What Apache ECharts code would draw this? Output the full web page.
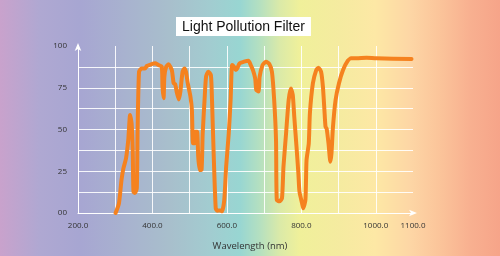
<!DOCTYPE html>
<html>
<head>
<meta charset="utf-8">
<script src="https://cdn.jsdelivr.net/npm/echarts@6/dist/echarts.min.js"></script>
<style>
html,body{margin:0;padding:0;}
#chart{width:500px;height:256px;}
</style>
</head>
<body>
<div id="chart"></div>
<script>
var titleText = 'Light Pollution Filter';
var xAxisName = 'Wavelength (nm)';
var xLabelValues = [200, 400, 600, 800, 1000, 1100];
var yLabelValues = [0, 25, 50, 75, 100];

var wavelength = [301,310,317,322,329,335,340,344,347,349,353,358,360,364,371,380,385,398,407,416,425,427,430,432,437,443,452,457,461,466,471,475,481,486,490,495,502,506,509,514,515,520,523,527,532,535,540,544,550,557,560,565,570,574,583,587,593,598,605,610,614,619,624,628,634,646,658,664,670,676,679,685,688,696,705,714,721,727,732,734,741,748,752,759,766,772,777,781,787,792,795,802,805,811,814,820,823,831,840,846,853,858,862,865,868,873,878,881,885,892,901,912,925,934,948,975,1001,1096];
var transmission = [0,5.8,20,26.7,32.7,43.7,58.7,53.7,37.7,12.8,12,14.8,48,84.6,86.6,86.6,88,89.2,89.6,88.6,87.6,75.6,68.7,81.6,87.6,89,85.6,77.6,77.2,71.7,68,72.6,84.6,86.6,84.6,77.6,69.8,61.7,41.7,41.7,48.7,48.7,33.7,25.7,26,47.7,67.7,81.6,84.6,82.6,67.7,31.7,2.8,1.4,1.5,1,7.8,27.7,47.7,67.7,88.6,87.6,85.6,86.6,89.6,90.6,91.2,88.6,85.6,80.6,73.7,72.7,81.6,88.6,90.6,89.2,84.6,67.7,43.7,7.8,7,8.8,27.7,47.7,67.7,74.6,70.6,57.7,39.7,23.9,12.8,5.8,2.8,7.8,31.7,41.7,59.7,77.6,85.6,87,84.6,75.6,61.7,51.6,50.6,41.7,30.7,35.7,51.6,67.7,77.6,85.6,91.2,92.6,92.6,93,92.6,92.2];

var seriesData = wavelength.map(function (w, i) { return [w, transmission[i]]; });

var chart = echarts.init(document.getElementById('chart'), null, {renderer: 'canvas'});

var gridWhite = 'rgba(255,255,255,0.9)';
var xSplitColors = [gridWhite, gridWhite, gridWhite, gridWhite, gridWhite, gridWhite, gridWhite, gridWhite, gridWhite, 'rgba(0,0,0,0)'];
var ySplitColors = [gridWhite, gridWhite, gridWhite, gridWhite, gridWhite, gridWhite, gridWhite, gridWhite, 'rgba(0,0,0,0)'];

var option = {
  backgroundColor: new echarts.graphic.LinearGradient(0, 0, 1, 0, [
    {offset: 0.00, color: '#c9a2cc'},
    {offset: 0.08, color: '#afa8d2'},
    {offset: 0.16, color: '#a7a6d2'},
    {offset: 0.25, color: '#a8b2cf'},
    {offset: 0.34, color: '#a8bfcc'},
    {offset: 0.42, color: '#a2ccd0'},
    {offset: 0.48, color: '#98d6d2'},
    {offset: 0.52, color: '#b5e0c0'},
    {offset: 0.56, color: '#dbeaa8'},
    {offset: 0.60, color: '#f0f09a'},
    {offset: 0.68, color: '#f5eba0'},
    {offset: 0.75, color: '#fde8a5'},
    {offset: 0.82, color: '#fdd6a5'},
    {offset: 0.88, color: '#fbc49a'},
    {offset: 0.94, color: '#f8b090'},
    {offset: 1.00, color: '#f6a489'}
  ]),
  animation: false,
  title: {
    text: titleText,
    left: 176,
    top: 17,
    padding: [3, 6, 2, 6],
    backgroundColor: '#ffffff',
    textStyle: {
      fontFamily: 'Liberation Sans',
      fontSize: 14,
      fontWeight: 'normal',
      color: '#111'
    }
  },
  grid: {left: 78, right: 87, top: 46, bottom: 43, containLabel: false},
  xAxis: {
    type: 'value',
    min: 200,
    max: 1100,
    interval: 100,
    name: xAxisName,
    nameLocation: 'middle',
    nameGap: 28,
    nameTextStyle: {fontFamily: 'Open Sans', fontSize: 9.5, color: '#333', padding: [0, 0, 0, 9]},
    axisLine: {
      show: true,
      lineStyle: {color: '#ffffff', width: 1},
      symbol: ['none', 'arrow'],
      symbolSize: [5, 8],
      symbolOffset: [0, 4]
    },
    axisTick: {show: false},
    axisLabel: {
      margin: 9,
      fontFamily: 'Open Sans',
      fontSize: 8,
      color: '#333',
      formatter: function (v) {
        return xLabelValues.indexOf(v) >= 0 ? v.toFixed(1) : '';
      }
    },
    splitLine: {show: true, lineStyle: {color: xSplitColors, width: 1}}
  },
  yAxis: {
    type: 'value',
    min: 0,
    max: 100,
    interval: 12.5,
    axisLine: {
      show: true,
      lineStyle: {color: '#ffffff', width: 1},
      symbol: ['none', 'arrow'],
      symbolSize: [5, 8],
      symbolOffset: [0, 3]
    },
    axisTick: {show: false},
    axisLabel: {
      margin: 11,
      fontFamily: 'Open Sans',
      fontSize: 8,
      color: '#333',
      formatter: function (v) {
        if (yLabelValues.indexOf(v) < 0) return '';
        return v === 0 ? '00' : String(v);
      }
    },
    splitLine: {show: true, lineStyle: {color: ySplitColors, width: 1}}
  },
  series: [{
    type: 'line',
    data: seriesData,
    showSymbol: false,
    smooth: 0.2,
    lineStyle: {color: '#f5821f', width: 4, cap: 'round', join: 'round'},
    itemStyle: {color: '#f5821f'}
  }]
};
chart.setOption(option);
</script>
</body>
</html>
